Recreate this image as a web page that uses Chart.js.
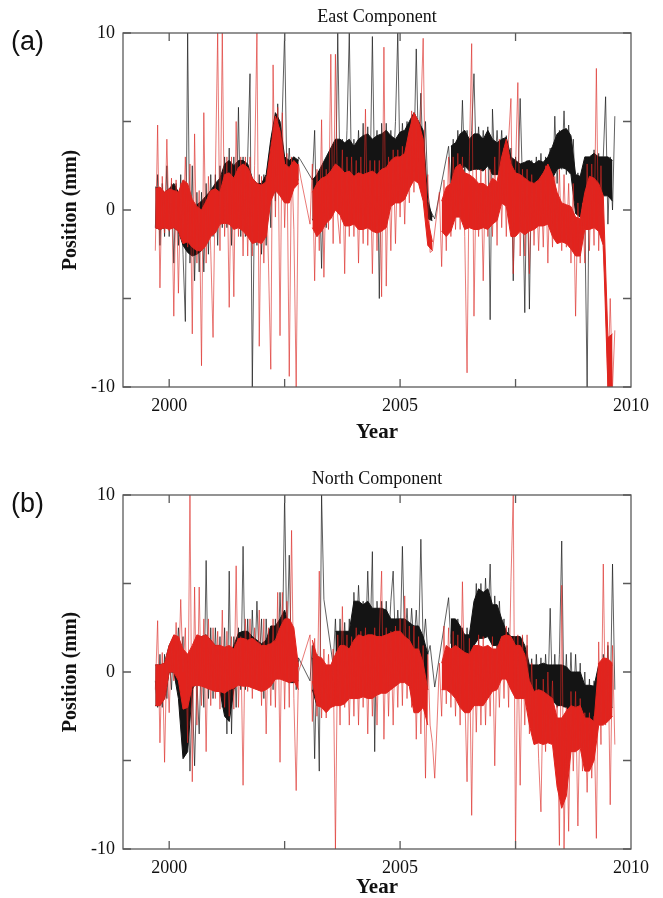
<!DOCTYPE html>
<html>
<head>
<meta charset="utf-8">
<script src="https://cdn.jsdelivr.net/npm/chart.js@4.4.1/dist/chart.umd.min.js"></script>
<style>
  body { margin: 0; background: #fff; }
  #wrap { position: relative; width: 663px; height: 898px; }
  canvas { position: absolute; left: 0; }
</style>
</head>
<body>
<div id="wrap">
  <canvas id="east" width="663" height="449" style="top:0"></canvas>
  <canvas id="north" width="663" height="449" style="top:449px"></canvas>
</div>
<script>
// daily noise sampled every 0.05 yr from 1999.70 (20 per row below)
const years = Array.from({ length: 200 }, (_, i) => +(1999.7 + i * 0.05).toFixed(2));
// dense core of each series, every 0.1 yr from 1999.70 (10 per row)
const bandYears = Array.from({ length: 100 }, (_, i) => +(1999.7 + i * 0.1).toFixed(1));

const xLabels = [2000, 2005, 2010];
const xMarks = [2000, 2002.5, 2005, 2007.5];
const yMarks = [-10, -5, 0, 5, 10];

// East component (mm), null = no data
const eastRed = [
  -2.3, 4.8, -4.4, 1.9, -1.3, 4.0, -1.2, 1.8, -6.0, 1.7, -4.7, 1.5, -1.5, 3.0, -2.1, 2.6, -7.0, 4.3, -3.0, 1.1,
  -8.8, 5.5, -3.0, 1.9, -2.3, -7.2, 1.9, 10, -2.3, 10, -1.5, 3.0, -5.5, 3.0, -4.9, 5.0, -1.5, 3.0, -2.6, 3.0,
  -2.6, 3.0, -2.6, 2.5, 10, -7.7, 1.9, -3.0, 1.9, -3.0, -9.0, 8.2, -0.4, 5.8, -7.1, 5.5, -1.0, 3.2, -9.4, 3.0,
  -1.1, -10, 2.6, 1.8, null, null, null, -0.8, 2.6, -4.0, 2.3, -2.3, 5.1, -3.8, 2.3, -1.1, 8.8, -1.9, 8.8, -0.4,
  -1.9, 3.4, -3.6, 3.0, -1.5, 3.0, -1.5, 2.8, -3.0, 3.0, -1.9, 5.7, -2.0, 2.8, -3.6, 2.8, -2.3, 2.8, -4.9, 9.2,
  -4.3, 3.0, -2.3, 3.4, -1.9, 3.4, -0.4, 3.6, -0.8, 3.6, 0.4, 5.6, 1.0, 5.0, 1.5, 5.6, 9.7, 0.5, 2.0, -2.4,
  -2.3, null, null, 1.0, -3.2, 1.7, -2.3, 3.0, -1.5, 3.0, -1.1, 3.2, -1.1, 3.0, -1.5, -9.2, 3.0, 9.4, -6.0, 2.3,
  -1.5, 2.3, -4.0, 2.3, -1.5, 2.3, -1.5, 3.0, -2.0, 4.0, -1.0, 3.5, -1.5, 4.0, 6.3, -3.6, 2.3, 7.2, -2.6, 2.3,
  -2.6, 2.3, -3.6, 2.0, -2.0, 1.5, -2.3, 1.7, -2.1, 2.5, -3.0, 2.0, -2.1, 1.9, -1.5, 2.3, -2.3, 2.0, -2.1, 1.5,
  -3.0, 1.5, -6.0, 0.4, -3.0, 0.4, -3.0, 2.6, -2.3, 2.6, -2.0, 8.0, -2.3, 2.5, -2.3, -4.7, -10, -5.0, -10, -6.8
];
const eastBlack = [
  -1.0, 2.0, -2.0, 1.5, -1.5, 2.5, -1.5, 1.5, -3.0, 1.5, -2.0, 2.0, -2.5, -6.3, 10, -3.0, 2.5, -4.0, 1.0, -3.5,
  1.0, -3.5, 1.5, -2.5, 2.0, -1.5, 2.0, -2.0, 2.5, -1.0, 3.0, -1.0, 3.5, -2.0, 3.0, -1.0, 5.8, -1.5, 3.0, -1.5,
  3.0, 7.7, -10, 1.0, -2.0, 2.0, -2.5, 2.0, -2.0, 2.5, -1.0, 4.5, 0.5, 6.0, 1.0, 5.5, 10, 1.5, 3.5, 1.0,
  3.0, 1.5, 3.0, 2.8, null, null, null, null, 1.7, 4.5, -1.5, 2.0, -3.3, 2.5, -1.0, 3.0, 0.0, 3.5, 0.5, 10,
  1.5, 4.0, 1.0, 4.5, 10, 1.5, 4.0, 1.0, 4.5, 1.5, 4.9, 1.0, 4.7, 1.5, 9.8, 1.5, 4.5, -5.0, 4.9, 2.0,
  4.9, 2.0, 4.5, 2.1, 5.0, 10, 2.0, 4.9, 2.5, 5.0, 2.5, 5.0, 3.0, 9.1, 3.0, 6.6, 2.5, 5.0, 1.0, 0.0,
  null, -0.5, null, null, null, null, null, 3.6, 1.5, 4.0, 1.5, 4.5, 2.0, 6.2, 2.0, 4.5, 2.5, 4.5, 7.7, 2.5,
  4.7, 2.5, 4.5, 2.6, 4.7, -6.2, 5.7, 2.5, 4.5, 2.5, 4.5, 2.0, 4.2, 1.5, 3.5, -4.0, 3.0, 1.3, 6.3, 1.5,
  -5.8, 2.8, -5.6, 2.8, 1.3, 3.0, 1.0, 3.2, 1.0, 3.0, 1.3, 3.5, 0.8, 5.3, 1.5, 4.5, 2.3, 5.6, 2.0, 4.8,
  2.3, 4.0, 0.5, 2.1, -0.4, 2.0, -0.5, -10, 3.0, 0.8, 3.4, 1.0, 3.2, 0.8, 3.0, 6.4, -0.8, 3.0, 0.0, 5.3
];
const eastRedHi = [
  1.2, 1.3, 1.0, 1.2, 1.1, 1.0, 1.7, 1.5, 0.6, 0.2,
  0.0, 0.5, 1.1, 1.2, 1.0, 2.0, 2.1, 1.8, 2.4, 2.6,
  2.4, 1.8, 1.5, 1.4, 1.6, 3.5, 5.3, 4.5, 2.6, 2.4,
  2.8, 2.5, null, null, 1.0, 1.5, 1.8, 1.9, 2.2, 2.6,
  2.4, 2.1, 2.2, 1.9, 2.1, 2.0, 2.1, 2.2, 2.0, 2.3,
  2.4, 2.8, 3.0, 3.0, 3.2, 4.5, 5.5, 5.0, 4.0, -0.5,
  -1.8, null, 0.5, 1.3, 1.5, 2.4, 2.6, 2.1, 2.0, 1.8,
  1.5, 1.5, 1.3, 1.8, 1.6, 3.0, 4.0, 2.6, 2.1, 2.0,
  1.8, 1.6, 1.5, 1.7, 2.1, 2.6, 2.0, 1.0, 0.4, 0.3,
  0.2, -0.4, -0.5, 1.0, 1.9, 1.8, 1.5, 0.8, -7.2, -7.0
];
const eastRedLo = [
  -1.0, -1.1, -1.0, -1.1, -1.0, -1.2, -1.9, -1.8, -2.1, -2.3,
  -2.3, -2.0, -1.5, -1.3, -0.8, -0.75, -0.8, -1.1, -1.0, -1.2,
  -1.5, -1.9, -1.8, -1.9, -1.5, 0.5, 1.1, 0.8, 0.4, 0.4,
  1.2, 1.5, null, null, -1.0, -1.5, -1.2, -0.75, -0.5, 0.0,
  -0.3, -0.9, -0.9, -0.8, -1.1, -1.1, -1.0, -1.2, -1.3, -1.2,
  -1.0, 0.2, 0.4, 0.4, 0.6, 1.2, 1.7, 1.5, 0.5, -2.0,
  -2.3, null, -1.2, -1.5, -1.2, -0.4, -0.4, -1.1, -1.0, -1.1,
  -1.1, -1.0, -1.1, -0.8, -0.6, 0.4, 0.2, -1.5, -1.5, -1.2,
  -1.4, -1.2, -1.1, -0.9, -0.9, -0.8, -1.5, -1.9, -1.8, -1.9,
  -2.2, -2.6, -2.6, -1.1, -1.1, -1.0, -1.2, -2.0, -10, -10
];
const eastBlackHi = [
  1.3, 1.2, 1.0, 1.2, 1.5, 1.0, 1.0, 0.0, -0.5, 0.3,
  0.5, 0.8, 1.1, 1.5, 1.8, 2.6, 2.8, 2.5, 2.8, 2.8,
  2.6, 1.8, 1.5, 1.5, 2.0, 4.0, 5.5, 5.0, 3.0, 2.8,
  3.0, 2.8, null, null, 1.7, 2.0, 2.5, 3.0, 3.5, 4.0,
  4.0, 3.8, 4.0, 3.6, 4.0, 4.2, 4.3, 4.0, 4.2, 4.3,
  4.5, 4.2, 4.0, 4.4, 4.5, 5.0, 5.5, 5.0, 4.5, 0.5,
  -0.4, null, null, null, 3.6, 3.8, 4.3, 4.5, 4.0, 4.3,
  4.3, 4.0, 4.5, 4.0, 3.8, 4.0, 4.1, 3.0, 2.8, 2.6,
  2.7, 2.8, 2.6, 2.8, 2.7, 3.0, 3.6, 4.3, 4.5, 4.6,
  4.2, 2.0, 1.9, 3.0, 3.0, 3.2, 3.0, 3.0, 3.0, 2.8
];
const eastBlackLo = [
  -1.0, -1.1, -1.0, -1.0, -1.0, -1.2, -2.0, -2.4, -2.6, -2.5,
  -2.3, -1.8, -1.3, -1.0, -0.5, -0.5, -0.5, -0.6, -0.8, -1.0,
  -1.3, -1.6, -1.5, -1.6, -1.0, 1.0, 1.5, 1.2, 1.0, 1.0,
  1.5, 1.7, null, null, -0.5, -1.0, -0.5, 0.0, 0.5, 1.0,
  1.2, 1.5, 1.5, 1.3, 1.5, 1.6, 1.7, 1.5, 1.8, 1.9,
  2.0, 2.0, 1.9, 2.0, 2.2, 2.5, 2.8, 2.5, 1.5, -0.5,
  -0.6, null, null, null, 1.5, 1.8, 2.2, 2.5, 2.2, 2.3,
  2.3, 2.2, 2.5, 2.0, 2.0, 2.0, 2.0, 1.3, 1.2, 1.2,
  1.3, 1.4, 1.3, 1.4, 1.3, 1.5, 1.8, 2.3, 2.4, 2.3,
  2.0, -0.2, -0.4, 0.8, 0.9, 1.0, 0.8, 0.8, 0.8, 0.5
];

// North component (mm)
const northRed = [
  -1.0, 2.9, -4.0, 1.1, -5.1, 1.0, -2.3, 1.5, -0.5, 2.8, -0.4, 4.1, 0.0, 2.5, -4.0, 10, -6.2, 4.8, -3.0, 4.8,
  -1.9, 3.0, -4.5, 3.0, -1.9, 2.5, -1.5, 2.3, -2.1, 3.5, -2.0, 2.3, -2.5, 2.0, -2.1, 6.0, -2.0, 2.0, -6.4, 3.0,
  -1.1, 3.0, -1.5, 2.5, -1.0, 3.5, -1.9, 3.0, -3.5, 2.5, -1.9, 3.0, -2.0, 4.5, -5.1, 4.5, -2.1, 4.0, -2.0, 8.0,
  -1.5, -6.7, 0.0, null, null, null, null, 2.1, -2.8, 1.9, -2.5, 5.7, -2.6, 1.3, -2.6, 1.0, -2.0, 1.3, -10, 2.1,
  -3.0, 3.7, -2.0, 2.1, -3.0, 2.0, -2.5, 2.5, -3.0, 2.3, -2.0, 2.5, -3.5, 2.0, -2.5, 2.5, -3.0, 2.0, 5.7, -3.8,
  2.5, -2.5, 2.3, -3.0, 2.6, -2.0, 3.0, -1.9, 4.3, -1.5, 2.6, -2.0, 2.6, -3.8, 2.0, -3.5, 1.5, -6.0, 1.0, -3.0,
  -4.0, -6.0, -3.0, 0.5, -2.5, 2.6, -1.8, 2.5, -2.0, 2.3, -2.5, 2.1, -3.0, 5.1, -1.0, -6.2, 1.9, -8.1, 1.5, -3.4,
  2.1, -3.0, 2.0, -3.0, 1.5, -2.5, 2.0, -5.3, 1.5, -2.0, 2.0, -1.5, 2.6, -2.0, 5.1, 10, -10, 2.1, -6.4, 2.1,
  -3.0, 2.1, -3.5, 0.5, -4.0, -0.4, -4.9, -7.9, -0.4, -4.5, 0.0, -4.0, -0.5, -5.0, -1.9, -9.8, 4.9, -10, -2.0, -9.0,
  -1.1, -5.6, -1.1, -8.7, -1.5, -5.6, -2.3, -6.8, -2.3, -6.0, -2.5, -9.4, 1.7, -4.1, 6.1, -3.0, 1.7, -7.5, 1.5, -4.1
];
const northBlack = [
  -0.5, -2.0, 1.0, -2.0, 1.0, -1.5, 1.0, -1.0, 2.0, 0.0, 2.5, 0.5, 2.0, -3.0, -0.4, -5.6, -1.0, -5.3, -0.5, -3.5,
  1.5, -2.0, 6.3, -1.5, 2.5, -1.5, 2.5, -1.0, 2.0, -2.0, 2.5, -3.5, 5.7, -3.5, 2.0, -2.0, 2.5, -1.0, 7.1, -1.0,
  3.0, -0.5, 3.5, 0.0, 4.0, 0.5, 3.0, -1.5, 3.0, 0.0, 2.5, -1.0, 3.0, 0.0, 4.5, 1.0, 10, 1.5, 6.6, 0.0,
  2.0, -1.0, 0.8, null, null, null, null, -0.5, 1.5, -4.9, 1.0, -5.6, 10, 4.1, null, null, null, 0.4, 3.0, -0.4,
  3.0, -0.4, 2.8, 0.0, 3.0, 0.5, 4.5, 1.7, 4.9, 2.0, 4.0, 1.5, 5.7, 1.7, 6.8, -4.5, 4.0, 1.1, 4.0, 1.5,
  4.0, 1.5, 4.0, 5.7, 1.3, 3.5, 1.3, 7.1, 1.5, 3.6, 1.3, 3.6, 1.5, 3.5, 1.3, 7.5, 1.5, 3.0, 1.0, 1.5,
  null, -0.85, null, null, null, null, null, 4.2, 1.6, 3.0, 1.3, 3.0, 1.5, 2.5, 0.5, 2.5, 0.5, 3.0, 2.0, 5.0,
  1.5, 5.0, 2.0, 5.3, 2.5, 6.1, 1.5, 4.3, 1.3, 4.0, 1.3, 3.0, 0.5, 2.5, 0.0, 2.0, -1.0, 1.5, -0.5, 2.0,
  -0.5, 1.5, -1.0, 0.75, -1.9, 1.0, -1.5, 0.8, -1.9, 1.0, -1.5, 3.6, -1.5, 1.0, -2.0, 1.0, 7.4, -2.0, 1.0, -2.3,
  1.1, -2.3, 1.0, -2.0, 0.5, -2.3, 0.0, -3.0, -0.4, -3.4, -0.5, -3.0, 0.5, -2.0, 1.0, -1.5, 1.5, -2.0, 6.1, -1.0
];
const northRedHi = [
  0.4, 0.4, 0.5, 1.5, 2.1, 2.0, 1.3, 1.0, 1.5, 2.1,
  2.0, 2.1, 1.8, 1.5, 1.5, 1.4, 1.5, 1.3, 1.9, 1.9,
  1.8, 1.9, 1.7, 1.5, 1.5, 1.6, 1.8, 2.5, 3.0, 3.0,
  2.5, 0.3, null, null, 1.8, 0.9, 0.8, 0.4, 0.4, 1.0,
  1.5, 1.5, 1.3, 1.8, 2.1, 2.0, 2.1, 2.1, 2.0, 2.0,
  2.1, 2.2, 2.3, 2.3, 2.0, 1.8, 1.3, 1.3, 0.5, -1.0,
  null, null, 0.5, 1.5, 1.3, 1.5, 1.3, 1.1, 1.0, 1.5,
  1.5, 1.4, 1.5, 1.3, 1.3, 2.0, 2.1, 2.0, 1.5, 1.5,
  1.0, -0.5, -1.1, -1.0, -1.1, -1.3, -1.5, -2.6, -2.6, -2.2,
  -1.9, -2.0, -1.9, -2.6, -2.6, -2.8, 0.5, 0.8, 0.75, 0.5
];
const northRedLo = [
  -1.9, -1.9, -1.5, 0.0, 0.0, -0.5, -2.1, -2.0, -0.8, -0.75,
  -0.8, -0.9, -1.0, -1.1, -1.1, -1.2, -1.0, -0.9, -0.75, -0.8,
  -0.8, -0.9, -1.0, -1.1, -1.0, -0.8, -0.4, -0.4, -0.5, -0.6,
  -0.5, -1.0, null, null, -0.5, -1.9, -2.0, -2.3, -2.0, -1.9,
  -1.9, -1.8, -1.5, -1.5, -1.5, -1.4, -1.5, -1.5, -1.3, -1.2,
  -1.2, -1.0, -0.8, -0.6, -0.6, -0.8, -2.3, -2.3, -2.0, -3.0,
  null, null, -1.0, -1.0, -1.2, -1.5, -2.0, -2.3, -2.3, -1.9,
  -1.9, -1.9, -1.5, -1.1, -1.0, -0.4, -0.4, -1.0, -1.5, -1.5,
  -1.5, -3.0, -4.1, -4.0, -4.1, -4.0, -4.1, -6.5, -7.7, -7.0,
  -4.5, -4.5, -4.3, -5.6, -5.6, -5.0, -3.0, -3.0, -2.8, -2.5
];
const northBlackHi = [
  0.4, 0.4, 0.5, 1.5, 2.0, 1.2, -1.1, -1.0, 1.3, 2.0,
  2.0, 2.1, 1.8, 1.5, 1.5, 0.5, 1.0, 1.5, 2.2, 2.3,
  2.3, 2.0, 1.8, 1.6, 1.8, 2.6, 2.6, 3.0, 3.5, 2.5,
  1.0, 0.6, null, null, 0.8, 0.5, 0.5, null, null, 2.3,
  2.3, 2.3, 2.3, 4.0, 4.0, 3.8, 4.0, 3.6, 3.6, 3.6,
  3.5, 3.0, 3.0, 3.0, 3.0, 2.8, 2.6, 2.6, 2.0, 1.0,
  null, null, null, null, 3.0, 3.0, 2.6, 2.1, 2.1, 4.0,
  4.7, 4.5, 4.7, 3.8, 3.8, 3.0, 2.3, 2.0, 2.0, 2.0,
  1.5, 0.4, 0.4, 0.4, 0.5, 0.4, 0.4, 0.4, 0.4, 0.3,
  0.0, 0.0, 0.0, -0.75, -0.75, -0.8, 0.4, 0.4, 0.4, 0.4
];
const northBlackLo = [
  -1.9, -1.9, -1.5, 0.0, 0.0, -1.5, -4.9, -4.5, -1.0, -0.5,
  -0.5, -0.6, -0.8, -1.0, -1.1, -2.5, -2.8, -1.0, -0.5, -0.4,
  -0.4, -0.6, -0.8, -1.0, -0.6, -0.4, -0.4, -0.3, -0.4, -0.6,
  -0.6, -0.5, null, null, -1.0, -1.9, -1.5, null, null, -0.4,
  -0.4, -0.4, -0.3, 1.1, 1.1, 1.2, 1.3, 1.3, 1.3, 1.2,
  1.2, 1.1, 1.1, 1.1, 1.0, 0.8, 0.5, 0.5, 0.0, -1.0,
  null, null, null, null, 1.0, 1.5, 0.8, 0.4, 0.4, 1.5,
  1.9, 1.9, 2.0, 1.5, 1.5, 0.5, -0.4, -0.5, -0.5, -0.6,
  -1.0, -1.5, -1.5, -1.5, -1.5, -1.6, -1.6, -1.9, -1.9, -2.0,
  -2.3, -2.3, -2.3, -3.0, -3.0, -3.0, -1.9, -1.9, -1.9, -2.0
];

const RED = "#e2231d";
const RED_THIN = "rgba(220, 40, 36, 0.62)";
const BLACK = "#141414";
const BLACK_THIN = "rgba(20, 20, 20, 0.68)";
const FRAME = "#5a5a5a";

// frame, inward tick marks, panel title and tag letter
const framePlugin = {
  id: "frame",
  afterDraw(chart, args, opts) {
    const { ctx, chartArea: a, scales: { x, y } } = chart;
    ctx.save();
    ctx.strokeStyle = FRAME;
    ctx.lineWidth = 1.3;
    ctx.strokeRect(a.left, a.top, a.right - a.left, a.bottom - a.top);
    ctx.beginPath();
    xMarks.forEach((v) => {
      const px = x.getPixelForValue(v);
      ctx.moveTo(px, a.bottom); ctx.lineTo(px, a.bottom - 8);
      ctx.moveTo(px, a.top); ctx.lineTo(px, a.top + 8);
    });
    yMarks.forEach((v) => {
      const py = y.getPixelForValue(v);
      ctx.moveTo(a.left, py); ctx.lineTo(a.left + 8, py);
      ctx.moveTo(a.right, py); ctx.lineTo(a.right - 8, py);
    });
    ctx.stroke();
    ctx.fillStyle = "#111";
    ctx.textAlign = "center";
    ctx.textBaseline = "alphabetic";
    ctx.font = '18px "Liberation Serif"';
    ctx.fillText(opts.title, (a.left + a.right) / 2, opts.titleY);
    ctx.textAlign = "left";
    ctx.font = '27px "Liberation Sans"';
    ctx.fillText(opts.tag, 11, opts.tagY);
    ctx.restore();
  },
};

const pts = (xs, ys) => xs.map((t, i) => ({ x: t, y: ys[i] }));

function makePanel(id, s, cfg) {
  const ctx = document.getElementById(id).getContext("2d");
  new Chart(ctx, {
    type: "line",
    data: {
      // index 0 is drawn last (on top): red over black
      datasets: [
        { label: "red", data: pts(years, s.red), borderColor: RED_THIN, borderWidth: 1, spanGaps: true },
        { label: "red core", data: pts(bandYears, s.redHi), borderColor: RED, backgroundColor: RED, borderWidth: 1, fill: "+1", spanGaps: false },
        { label: "red core lo", data: pts(bandYears, s.redLo), borderColor: RED, borderWidth: 1, spanGaps: false },
        { label: "black", data: pts(years, s.black), borderColor: BLACK_THIN, borderWidth: 1, spanGaps: true },
        { label: "black core", data: pts(bandYears, s.blackHi), borderColor: BLACK, backgroundColor: BLACK, borderWidth: 1, fill: "+1", spanGaps: false },
        { label: "black core lo", data: pts(bandYears, s.blackLo), borderColor: BLACK, borderWidth: 1, spanGaps: false },
      ],
    },
    options: {
      responsive: false,
      animation: false,
      events: [],
      elements: { point: { radius: 0 }, line: { tension: 0 } },
      layout: { padding: { left: 50, right: 32, top: cfg.top, bottom: 0 } },
      plugins: {
        legend: { display: false },
        tooltip: { enabled: false },
        filler: { drawTime: "beforeDatasetDraw" },
        frame: { title: cfg.title, titleY: cfg.titleY, tag: cfg.tag, tagY: cfg.tagY },
      },
      scales: {
        x: {
          type: "linear",
          min: 1999,
          max: 2010,
          grid: { display: false, drawTicks: false },
          border: { display: false },
          afterBuildTicks: (sc) => { sc.ticks = xLabels.map((v) => ({ value: v })); },
          afterFit: (sc) => { sc.height = cfg.xHeight; },
          ticks: {
            padding: 8,
            color: "#111",
            font: { family: "Liberation Serif", size: 18 },
            callback: (v) => String(v),
          },
          title: {
            display: true,
            text: "Year",
            color: "#111",
            font: { family: "Liberation Serif", size: 21, weight: "bold" },
            padding: { top: 0, bottom: cfg.yearPad },
          },
        },
        y: {
          min: -10,
          max: 10,
          grid: { display: false, drawTicks: false },
          border: { display: false },
          afterFit: (sc) => { sc.width = 73; },
          ticks: {
            stepSize: 10,
            padding: 8,
            color: "#111",
            font: { family: "Liberation Serif", size: 18 },
          },
          title: {
            display: true,
            text: "Position (mm)",
            color: "#111",
            font: { family: "Liberation Serif", size: 20, weight: "bold" },
            padding: { top: 9, bottom: 0 },
          },
        },
      },
    },
    plugins: [framePlugin],
  });
}

makePanel("east", {
  red: eastRed, black: eastBlack,
  redHi: eastRedHi, redLo: eastRedLo, blackHi: eastBlackHi, blackLo: eastBlackLo,
}, {
  top: 33, xHeight: 62, yearPad: 4,
  title: "East Component", titleY: 22, tag: "(a)", tagY: 50,
});
makePanel("north", {
  red: northRed, black: northBlack,
  redHi: northRedHi, redLo: northRedLo, blackHi: northBlackHi, blackLo: northBlackLo,
}, {
  top: 46, xHeight: 49, yearPad: -2,
  title: "North Component", titleY: 35, tag: "(b)", tagY: 63,
});
</script>
</body>
</html>
